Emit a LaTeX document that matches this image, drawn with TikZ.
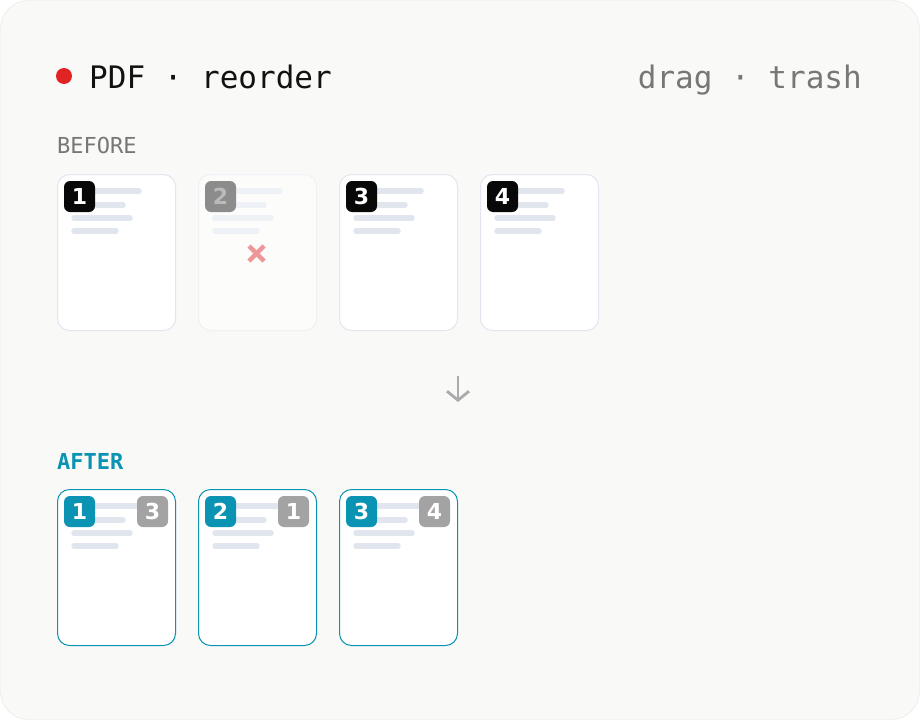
\documentclass[tikz,border=0pt]{standalone}
\usepackage{fontspec}
\usepackage{xcolor}
\usepackage{tikz}
\usetikzlibrary{arrows.meta}
\setmonofont{DejaVu Sans Mono}
\newfontfamily\badgefont{DejaVu Sans}
\definecolor{paper}{HTML}{F9F9F7}
\definecolor{framegray}{HTML}{E4E4E2}
\definecolor{pageedge}{HTML}{E2E6EE}
\definecolor{barcol}{HTML}{E1E6EE}
\definecolor{fadeedge}{HTML}{EFF1F4}
\definecolor{fadefill}{HTML}{FCFCFB}
\definecolor{fadebar}{HTML}{EEF1F5}
\definecolor{accent}{HTML}{0B93B3}
\definecolor{dotred}{HTML}{E02424}
\definecolor{hintgray}{HTML}{777777}
\definecolor{oldgray}{HTML}{A3A3A3}
\definecolor{crossred}{HTML}{EE9698}
\tikzstyle{page} = [draw=pageedge, fill=white, line width=1pt,
    rectangle, rounded corners=12pt, minimum width=118pt,
    minimum height=156pt, anchor=north west, inner sep=0pt]
\tikzstyle{badge} = [rectangle, rounded corners=6pt, minimum size=31pt,
    inner sep=0pt, text=white, font=\badgefont\bfseries\fontsize{22}{22}\selectfont]
\tikzstyle{bar} = [barcol, line width=5.5pt, line cap=round]
\tikzstyle{caption} = [anchor=base west, inner sep=0pt,
    font=\ttfamily\fontsize{22}{22}\selectfont]
% text lines on a page thumbnail
\newcommand{\pagebars}[2]{%
  \draw[#2] ([shift={(17,17)}]#1.north west) -- ++(65,0);
  \draw[#2] ([shift={(17,31)}]#1.north west) -- ++(49,0);
  \draw[#2] ([shift={(17,44)}]#1.north west) -- ++(56,0);
  \draw[#2] ([shift={(17,57)}]#1.north west) -- ++(42,0);
}
\begin{document}
\begin{tikzpicture}[x=1pt, y=-1pt]
\useasboundingbox (0,0) rectangle (920,720);
\draw[framegray, fill=paper, rounded corners=28pt] (0.5,0.5) rectangle (919.5,719.5);
% header
\node[circle, fill=dotred, minimum size=16pt, inner sep=0pt] (dot) at (64,76) {};
\node[anchor=base west, inner sep=0pt, text=black!93,
    font=\ttfamily\fontsize{31}{31}\selectfont] (title) at (89,88) {PDF · reorder};
\node[anchor=base east, inner sep=0pt, text=hintgray,
    font=\ttfamily\fontsize{31}{31}\selectfont] (hint) at (862,88) {drag · trash};
% before
\node[caption, text=hintgray] (before) at (57,153) {BEFORE};
\node[page] (b1) at (57,174) {};
\node[page, draw=fadeedge, fill=fadefill] (b2) at (198,174) {};
\node[page] (b3) at (339,174) {};
\node[page] (b4) at (480,174) {};
\pagebars{b1}{bar}
\pagebars{b2}{bar, fadebar}
\pagebars{b3}{bar}
\pagebars{b4}{bar}
\node[badge, fill=black!97] (n1) at ([shift={(22.5,22.5)}]b1.north west) {1};
\node[badge, fill=black!45, text=black!27] (n2) at ([shift={(22.5,22.5)}]b2.north west) {2};
\node[badge, fill=black!97] (n3) at ([shift={(22.5,22.5)}]b3.north west) {3};
\node[badge, fill=black!97] (n4) at ([shift={(22.5,22.5)}]b4.north west) {4};
\coordinate (trash) at (256.5,253.5);
\draw[crossred, line width=4.5pt] ([shift={(-7.5,-7.5)}]trash) -- ([shift={(7.5,7.5)}]trash);
\draw[crossred, line width=4.5pt] ([shift={(-7.5,7.5)}]trash) -- ([shift={(7.5,-7.5)}]trash);
% arrow
\coordinate (arrtop) at (458,376);
\coordinate (arrbot) at (458,402);
\draw[black!33, line width=2.8pt, -{Straight Barb[length=9pt, width=22pt]}] (arrtop) -- (arrbot);
% after
\node[caption, text=accent, font=\ttfamily\bfseries\fontsize{22}{22}\selectfont] (after) at (57,469) {AFTER};
\node[page, draw=accent] (a1) at (57,489) {};
\node[page, draw=accent] (a2) at (198,489) {};
\node[page, draw=accent] (a3) at (339,489) {};
\pagebars{a1}{bar}
\pagebars{a2}{bar}
\pagebars{a3}{bar}
\node[badge, fill=accent] (m1) at ([shift={(22.5,22.5)}]a1.north west) {1};
\node[badge, fill=oldgray] (o1) at ([shift={(-23.5,22.5)}]a1.north east) {3};
\node[badge, fill=accent] (m2) at ([shift={(22.5,22.5)}]a2.north west) {2};
\node[badge, fill=oldgray] (o2) at ([shift={(-23.5,22.5)}]a2.north east) {1};
\node[badge, fill=accent] (m3) at ([shift={(22.5,22.5)}]a3.north west) {3};
\node[badge, fill=oldgray] (o3) at ([shift={(-23.5,22.5)}]a3.north east) {4};
\end{tikzpicture}
\end{document}
